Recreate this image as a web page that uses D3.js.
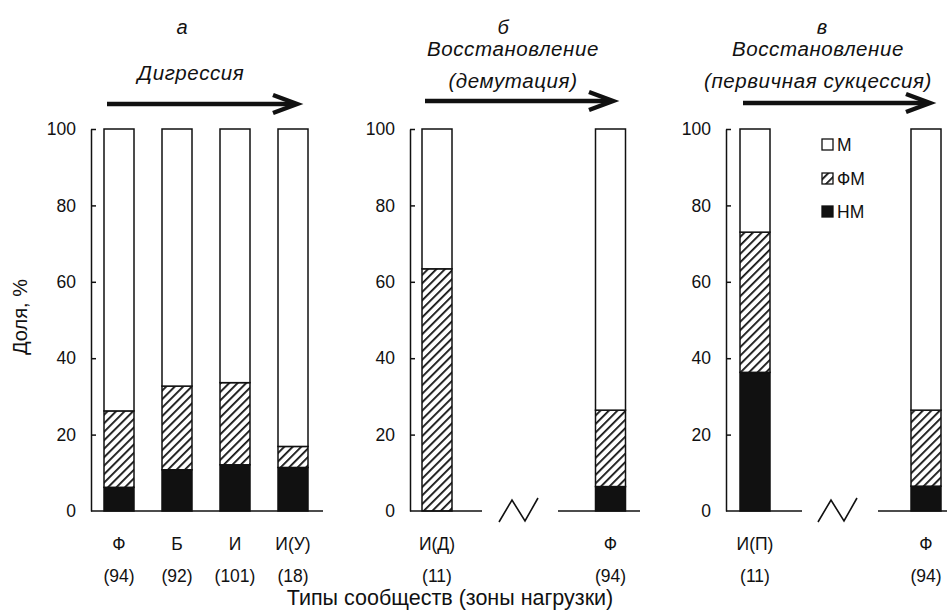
<!DOCTYPE html>
<html>
<head>
<meta charset="utf-8">
<script src="https://cdn.jsdelivr.net/npm/d3@7"></script>
<style>
  html, body { margin: 0; padding: 0; background: #ffffff; }
  svg { display: block; font-family: Arial, "Liberation Sans", sans-serif; }
</style>
</head>
<body>
<svg id="chart" width="947" height="610"></svg>
<script>
// ---------------- data ----------------
const seriesKeys = ["НМ", "ФМ", "М"];
const legendLabels = ["М", "ФМ", "НМ"];
const yTicks = [0, 20, 40, 60, 80, 100];

// panel а — Дигрессия
const catA = ["Ф", "Б", "И", "И(У)"];
const nA = ["(94)", "(92)", "(101)", "(18)"];
const nmA = [6.2, 10.8, 12.1, 11.4];
const fmA = [20.0, 21.9, 21.5, 5.5];

// panel б — Восстановление (демутация)
const catB = ["И(Д)", "Ф"];
const nB = ["(11)", "(94)"];
const nmB = [0, 6.4];
const fmB = [63.4, 20.0];

// panel в — Восстановление (первичная сукцессия)
const catC = ["И(П)", "Ф"];
const nC = ["(11)", "(94)"];
const nmC = [36.3, 6.5];
const fmC = [36.7, 19.9];

const panelLetters = ["а", "б", "в"];
const panelTitles = [["Дигрессия"], ["Восстановление", "(демутация)"], ["Восстановление", "(первичная сукцессия)"]];
const xTitle = "Типы сообществ (зоны нагрузки)";
const yTitle = "Доля, %";

// ---------------- build ----------------
const svg = d3.select("#chart");
const ink = "#111";

const defs = svg.append("defs");
defs.append("pattern")
  .attr("id", "hatch").attr("patternUnits", "userSpaceOnUse")
  .attr("width", 6).attr("height", 6)
  .attr("patternTransform", "rotate(45)")
  .call(p => {
    p.append("rect").attr("width", 6).attr("height", 6).attr("fill", "#fff");
    p.append("line").attr("x1", 0).attr("y1", 0).attr("x2", 0).attr("y2", 6)
      .attr("stroke", ink).attr("stroke-width", 3.6);
  });

const fills = { "НМ": ink, "ФМ": "url(#hatch)", "М": "#fff" };

const y = d3.scaleLinear().domain([0, 100]).range([511, 129]);

function rows(cats, nm, fm) {
  return cats.map((c, i) => ({ cat: c, "НМ": nm[i], "ФМ": fm[i], "М": 100 - nm[i] - fm[i] }));
}

const panels = [
  { letter: panelLetters[0], title: panelTitles[0], data: rows(catA, nmA, fmA), ns: nA,
    axisX: 91, range: [119, 293], base: [[91, 323]], brk: null,
    titleX: 191, letterX: 182, arrow: [107, 297, 104] },
  { letter: panelLetters[1], title: panelTitles[1], data: rows(catB, nmB, fmB), ns: nB,
    axisX: 410, range: [437, 610.5], base: [[410, 482], [558, 640]], brk: 499,
    titleX: 513, letterX: 503, arrow: [425, 613, 101] },
  { letter: panelLetters[2], title: panelTitles[2], data: rows(catC, nmC, fmC), ns: nC,
    axisX: 726, range: [755, 926], base: [[726, 802], [878, 947]], brk: 818,
    titleX: 818, letterX: 822, arrow: [743, 930, 103] }
];

const stack = d3.stack().keys(seriesKeys);
const barW = 30;

panels.forEach(p => {
  const x = d3.scalePoint().domain(p.data.map(d => d.cat)).range(p.range);
  const g = svg.append("g");

  // bars
  const layers = stack(p.data);
  layers.forEach(layer => {
    g.append("g").selectAll("rect").data(layer).join("rect")
      .attr("x", d => x(d.data.cat) - barW / 2)
      .attr("width", barW)
      .attr("y", d => y(d[1]))
      .attr("height", d => Math.max(0, y(d[0]) - y(d[1])))
      .attr("fill", fills[layer.key])
      .attr("stroke", ink).attr("stroke-width", 1.5);
  });

  // y axis (ticks point inward)
  const ax = g.append("g").attr("transform", `translate(${p.axisX},0)`)
    .call(d3.axisLeft(y).tickValues(yTicks).tickSize(-5).tickSizeOuter(0).tickPadding(15));
  ax.select(".domain").attr("stroke", ink).attr("stroke-width", 1.5);
  ax.selectAll(".tick line").attr("stroke", ink).attr("stroke-width", 1.5);
  ax.selectAll(".tick text").attr("font-size", 17.5).attr("fill", ink)
    .attr("font-family", "Arial, 'Liberation Sans', sans-serif");
  ax.selectAll(".tick").filter(d => d === 0).select("line").remove();

  // baseline segments
  p.base.forEach(s => {
    g.append("line").attr("x1", s[0]).attr("x2", s[1]).attr("y1", y(0)).attr("y2", y(0))
      .attr("stroke", ink).attr("stroke-width", 1.5);
  });
  if (p.brk !== null) {
    const b = p.brk;
    g.append("polyline")
      .attr("points", `${b},${y(0) + 11} ${b + 13},${y(0) - 11} ${b + 26},${y(0) + 10} ${b + 39},${y(0) - 13}`)
      .attr("fill", "none").attr("stroke", ink).attr("stroke-width", 1.6);
  }

  // category labels
  g.selectAll("text.cat").data(p.data).join("text").attr("class", "cat")
    .attr("x", d => x(d.cat)).attr("y", 550)
    .attr("text-anchor", "middle").attr("font-size", 17.5).attr("fill", ink)
    .text(d => d.cat);
  g.selectAll("text.n").data(p.data).join("text").attr("class", "n")
    .attr("x", d => x(d.cat)).attr("y", 582)
    .attr("text-anchor", "middle").attr("font-size", 17.5).attr("fill", ink)
    .text((d, i) => p.ns[i]);

  // panel letter & title
  g.append("text").attr("x", p.letterX).attr("y", 34).attr("text-anchor", "middle")
    .attr("font-size", 20).attr("font-style", "italic").attr("fill", ink).text(p.letter);
  const titleYs = p.title.length === 1 ? [80] : [56, 88];
  p.title.forEach((t, i) => {
    g.append("text").attr("x", p.titleX).attr("y", titleYs[i]).attr("text-anchor", "middle")
      .attr("font-size", 20.5).attr("font-style", "italic").attr("fill", ink)
      .attr("letter-spacing", 0.6).text(t);
  });

  // arrow
  const [ax0, ax1, ay] = p.arrow;
  g.append("line").attr("x1", ax0).attr("x2", ax1 - 4).attr("y1", ay).attr("y2", ay)
    .attr("stroke", ink).attr("stroke-width", 4.5);
  g.append("polyline")
    .attr("points", `${ax1 - 24},${ay - 9} ${ax1},${ay} ${ax1 - 24},${ay + 9}`)
    .attr("fill", "none").attr("stroke", ink).attr("stroke-width", 4.5)
    .attr("stroke-linejoin", "miter");
});

// legend
const legend = svg.append("g").attr("transform", "translate(822,0)");
const legendY = [145, 179, 212];
const legendFill = { "М": "#fff", "ФМ": "url(#hatch)", "НМ": ink };
legendLabels.forEach((k, i) => {
  legend.append("rect").attr("x", 0).attr("y", legendY[i] - 6).attr("width", 11).attr("height", 11)
    .attr("fill", legendFill[k]).attr("stroke", ink).attr("stroke-width", 1.3);
  legend.append("text").attr("x", 15).attr("y", legendY[i] + 6).attr("font-size", 17.5)
    .attr("fill", ink).text(k);
});

// axis titles
svg.append("text").attr("transform", "translate(27,317) rotate(-90)")
  .attr("text-anchor", "middle").attr("font-size", 20).attr("fill", ink).text(yTitle);
svg.append("text").attr("x", 450).attr("y", 605).attr("text-anchor", "middle")
  .attr("font-size", 21.5).attr("fill", ink).text(xTitle);
</script>
</body>
</html>
